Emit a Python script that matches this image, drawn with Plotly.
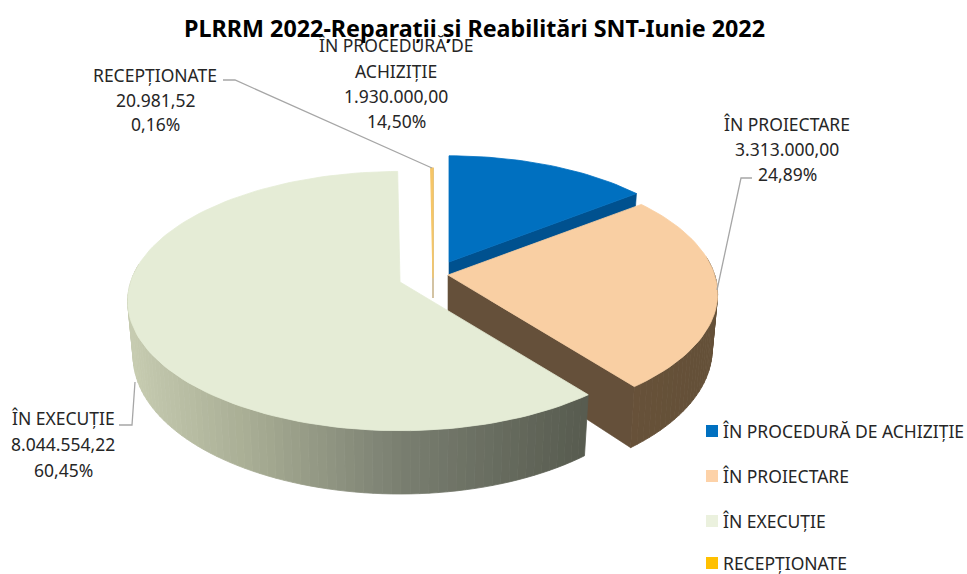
import math
import plotly.graph_objects as go

# ---- data ----
categories = ["ÎN PROCEDURĂ DE ACHIZIȚIE", "ÎN PROIECTARE", "ÎN EXECUȚIE", "RECEPȚIONATE"]
values = [1930000.00, 3313000.00, 8044554.22, 20981.52]
title_text = "PLRRM 2022-Reparații și Reabilitări SNT-Iunie 2022"

# ---- styling ----
top_colors = ["#0070c0", "#f9cfa3", "#e5ecd6", "#f6c667"]
legend_colors = ["#0070c0", "#fdd2a8", "#ebf1de", "#ffc000"]
radial_wall = ["#00518f", "#65503a", "#6b6f60", "#a88a4a"]
# wall colour stops by projected screen x
wall_stops = [
    [(200, (0, 70, 125)), (800, (0, 70, 125))],
    [(450, (110, 86, 60)), (720, (100, 80, 56))],
    [(125, (200, 205, 178)), (250, (168, 173, 148)), (400, (122, 127, 113)), (585, (88, 92, 80))],
    [(0, (168, 138, 74)), (967, (168, 138, 74))],
]
apex_x = [449, 448, 400, 433]
apex_y = [262, 275, 282, 278]
slice_scale = [0.965, 0.995, 1.005, 1.0]
draw_order = [0, 3, 1, 2]
R, CR, K, DEPTH, BOTTOM_SHRINK = 268, 126.2, 0.147, 54, 0.98
FONT = "Noto Sans"
TEXT = "#262626"
LINE = "#a6a6a6"


def fmt(v):
    return f"{v:,.2f}".replace(",", "X").replace(".", ",").replace("X", ".")


def project(i, t, bottom=False):
    z, sx = math.cos(t), math.sin(t)
    s = 1 / (1 + K * z)
    x = R * sx * s * slice_scale[i]
    y = -CR * z * s * slice_scale[i]
    if bottom:
        return apex_x[i] + x * BOTTOM_SHRINK, apex_y[i] + y + DEPTH * s
    return apex_x[i] + x, apex_y[i] + y


def wall_color(i, x):
    st = wall_stops[i]
    if x <= st[0][0]:
        c = st[0][1]
    elif x >= st[-1][0]:
        c = st[-1][1]
    else:
        for (a, ca), (b, cb) in zip(st, st[1:]):
            if a <= x <= b:
                f = (x - a) / (b - a)
                c = tuple(ca[j] + (cb[j] - ca[j]) * f for j in range(3))
                break
    return "rgb(%d,%d,%d)" % tuple(c)


def poly(xs, ys, color, lw=0.6):
    return go.Scatter(x=xs + xs[:1], y=ys + ys[:1], mode="lines", fill="toself", fillcolor=color,
                      line=dict(color=color, width=lw), hoverinfo="skip", showlegend=False)


fig = go.Figure()
total = sum(values)
angles = [0]
for v in values:
    angles.append(angles[-1] + v / total * 2 * math.pi)

for i in draw_order:
    a0, a1 = angles[i], angles[i + 1]
    n = max(2, int((a1 - a0) / 0.03))
    ts = [a0 + (a1 - a0) * j / n for j in range(n + 1)]
    ax, ay = apex_x[i], apex_y[i]
    # radial wall at the end angle (faces the viewer for slices on the right)
    if math.sin(a1) > 0 and math.cos(a1) < 0.9:
        ex, ey = project(i, a1)
        bx, by = project(i, a1, True)
        fig.add_trace(poly([ax, ex, bx, ax], [ay, ey, by, ay + DEPTH], radial_wall[i]))
    # outer wall
    for t0, t1 in zip(ts, ts[1:]):
        if math.cos((t0 + t1) / 2) > 0.15:
            continue
        p0, p1 = project(i, t0), project(i, t1)
        q0, q1 = project(i, t0, True), project(i, t1, True)
        c = wall_color(i, (p0[0] + p1[0]) / 2)
        fig.add_trace(poly([p0[0], p1[0], q1[0], q0[0]], [p0[1], p1[1], q1[1], q0[1]], c, 0.8))
    if i == 3:
        fig.add_trace(poly([ax, ax, project(i, a1)[0]], [ay, ay + DEPTH - 34, project(i, a1)[1]], radial_wall[i]))
    # top face
    pts = [project(i, t) for t in ts]
    fig.add_trace(poly([ax] + [p[0] for p in pts], [ay] + [p[1] for p in pts], top_colors[i], 0.8 if i != 3 else 1.2))

# leader lines
leaders = [
    ([223, 235, 432], [80, 80, 168]),
    ([752, 741, 717], [178, 178, 290]),
    ([119, 132, 135], [425, 425, 382]),
]
for lx, ly in leaders:
    fig.add_trace(go.Scatter(x=lx, y=ly, mode="lines", line=dict(color=LINE, width=1.3),
                             hoverinfo="skip", showlegend=False))

# data labels, one text per line
pct = [fmt(v / total * 100) + "%" for v in values]
label_lines = [
    ["ÎN PROCEDURĂ DE", "ACHIZIȚIE", fmt(values[0]), pct[0]],
    [categories[1], fmt(values[1]), pct[1]],
    [categories[2], fmt(values[2]), pct[2]],
    [categories[3], fmt(values[3]), pct[3]],
]
label_x = [396, 787, 63, 155]
label_y = [[45, 71, 96, 121], [124, 149, 174], [418, 444, 470], [75, 100, 124]]
FS = 17.5
for lines, lx, lys in zip(label_lines, label_x, label_y):
    for s, ly in zip(lines, lys):
        fig.add_annotation(x=lx, y=ly, text=s, showarrow=False, xanchor="center", yanchor="middle",
                           font=dict(family=FONT, size=FS, color=TEXT))

# legend
legend_y = [431, 476, 521, 563]
for name, col, ly in zip(categories, legend_colors, legend_y):
    fig.add_trace(go.Scatter(x=[712], y=[ly], mode="markers", hoverinfo="skip", showlegend=False,
                             marker=dict(symbol="square", size=12, color=col, line=dict(width=0))))
    fig.add_annotation(x=721, y=ly, text=name, showarrow=False, xanchor="left", yanchor="middle",
                       font=dict(family=FONT, size=FS, color=TEXT))

fig.add_annotation(x=474, y=28, text="<b>" + title_text + "</b>", showarrow=False, xanchor="center",
                   yanchor="middle", font=dict(family=FONT, size=23.3, color="#000000"))

fig.update_layout(width=967, height=574, margin=dict(l=0, r=0, t=0, b=0), autosize=False,
                  paper_bgcolor="white", plot_bgcolor="white", showlegend=False,
                  xaxis=dict(range=[0, 967], visible=False, fixedrange=True),
                  yaxis=dict(range=[574, 0], visible=False, fixedrange=True))
fig.write_html("out.html", post_script="document.body.style.margin='0';", config={"displayModeBar": False})
